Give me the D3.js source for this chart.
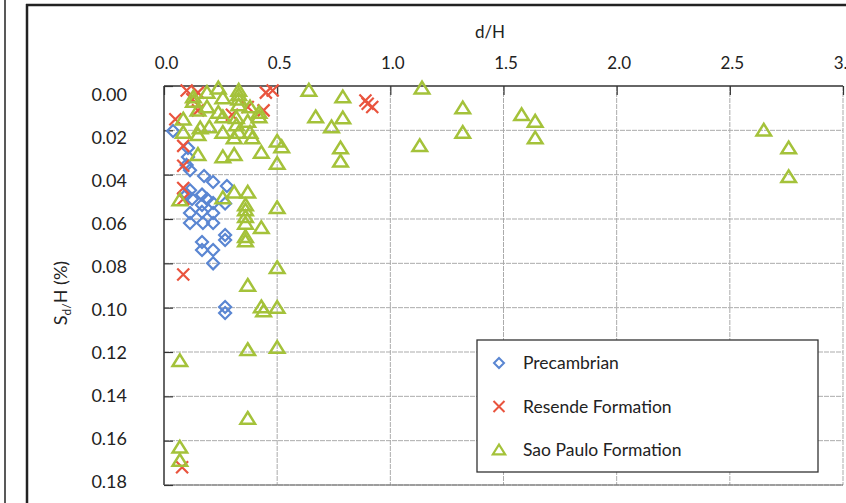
<!DOCTYPE html>
<html><head><meta charset="utf-8">
<script src="https://cdn.jsdelivr.net/npm/d3@7"></script>
<style>
html,body{margin:0;padding:0;background:#fff;}
svg text{font-family:Lato,"Open Sans",sans-serif;fill:#222;}
</style></head>
<body><svg id="c" width="846" height="503"></svg>
<script>
// ---- data ----
const xTicks = [0, 0.5, 1.0, 1.5, 2.0, 2.5, 3.0];
const yTicks = [0, 0.02, 0.04, 0.06, 0.08, 0.10, 0.12, 0.14, 0.16, 0.18];
const seriesNames = ["Precambrian", "Resende Formation", "Sao Paulo Formation"];

const precambrian = [
 [0.04,0.0203],[0.106,0.028],[0.106,0.032],[0.10,0.0356],[0.115,0.038],[0.177,0.0406],
 [0.217,0.0433],[0.278,0.0451],[0.115,0.047],[0.10,0.049],[0.124,0.051],[0.168,0.049],
 [0.19,0.051],[0.168,0.0537],[0.217,0.0528],[0.27,0.053],[0.115,0.0573],[0.168,0.0568],
 [0.217,0.0573],[0.115,0.0618],[0.172,0.0618],[0.217,0.0618],[0.27,0.0672],[0.27,0.0695],
 [0.168,0.0704],[0.168,0.074],[0.217,0.074],[0.217,0.080],[0.27,0.0997],[0.27,0.1024]
];
const resende = [
 [0.05,0.015],[0.10,0.002],[0.15,0.003],[0.125,0.006],[0.15,0.011],[0.085,0.027],
 [0.085,0.036],[0.085,0.046],[0.085,0.051],[0.085,0.085],[0.08,0.172],[0.30,0.013],
 [0.37,0.0095],[0.44,0.011],[0.45,0.003],[0.48,0.002],[0.89,0.0065],[0.92,0.0095],[0.90,0.008]
];
const saoPaulo = [
 [0.24,0.001],[0.19,0.003],[0.13,0.005],[0.13,0.007],[0.26,0.0054],[0.33,0.002],[0.33,0.004],
 [0.33,0.006],[0.33,0.0086],[0.19,0.0095],[0.15,0.011],[0.24,0.012],[0.26,0.014],[0.38,0.0095],
 [0.42,0.012],[0.42,0.014],[0.085,0.015],[0.32,0.0144],[0.32,0.0176],[0.37,0.016],[0.20,0.0185],
 [0.16,0.019],[0.085,0.021],[0.15,0.022],[0.26,0.021],[0.33,0.021],[0.38,0.021],[0.39,0.0235],
 [0.31,0.0235],[0.50,0.025],[0.52,0.0275],[0.50,0.035],[0.43,0.030],[0.26,0.032],[0.31,0.031],
 [0.15,0.031],[0.31,0.048],[0.37,0.048],[0.26,0.0505],[0.36,0.0537],[0.36,0.056],[0.36,0.059],
 [0.36,0.062],[0.43,0.064],[0.36,0.068],[0.36,0.070],[0.50,0.055],[0.50,0.082],[0.37,0.090],
 [0.07,0.0514],[0.43,0.0997],[0.44,0.1015],[0.50,0.100],[0.07,0.124],[0.37,0.119],[0.50,0.118],
 [0.37,0.150],[0.07,0.163],[0.07,0.169],
 [0.64,0.002],[0.79,0.005],[0.67,0.014],[0.79,0.0145],[0.74,0.0185],[0.78,0.028],[0.78,0.034],
 [1.14,0.001],[1.32,0.010],[1.32,0.021],[1.13,0.027],[1.58,0.013],[1.64,0.016],[1.64,0.0235],
 [2.65,0.020],[2.76,0.028],[2.76,0.041]
];

// ---- layout ----
const L = 164, R = 843, T = 86, B = 485;
const colors = {pre:"#5a86d2", res:"#e9543e", sao:"#a4c23a"};
const svg = d3.select("#c");

const x = d3.scaleLinear().domain([0,3]).range([L,R]);
const y = d3.scaleLinear().domain([0,0.18]).range([T,B]);
const yLab = d3.scaleLinear().domain([0,0.18]).range([95,482]);

// outer frame
svg.append("line").attr("x1",5).attr("x2",5).attr("y1",0).attr("y2",503).attr("stroke","#222").attr("stroke-width",1.5);
svg.append("line").attr("x1",27).attr("x2",27).attr("y1",4).attr("y2",503).attr("stroke","#222").attr("stroke-width",2.5);
svg.append("line").attr("x1",26).attr("x2",846).attr("y1",5).attr("y2",5).attr("stroke","#222").attr("stroke-width",2.5);

// gridlines
const grid = svg.append("g");
grid.selectAll(".vg").data(xTicks.slice(1)).join("line")
  .attr("x1",d=>x(d)).attr("x2",d=>x(d)).attr("y1",T).attr("y2",B)
  .attr("stroke","#ababab").attr("stroke-width",1).attr("stroke-dasharray","5,1");
grid.selectAll(".hg").data(yTicks.slice(1)).join("line")
  .attr("x1",L).attr("x2",R).attr("y1",d=>y(d)).attr("y2",d=>y(d))
  .attr("stroke","#ababab").attr("stroke-width",1).attr("stroke-dasharray","5,1");

// plot border
svg.append("line").attr("x1",L).attr("x2",R).attr("y1",T).attr("y2",T).attr("stroke","#333").attr("stroke-width",1.5);
svg.append("line").attr("x1",L).attr("x2",L).attr("y1",T).attr("y2",B).attr("stroke","#333").attr("stroke-width",1.5);
svg.append("line").attr("x1",L).attr("x2",R).attr("y1",B).attr("y2",B).attr("stroke","#666").attr("stroke-width",1.2);

// axes
const xAxis = svg.append("g").attr("transform",`translate(0,${T})`)
  .call(d3.axisTop(x).tickValues(xTicks).tickFormat(d3.format(".1f")).tickSize(-9).tickPadding(17));
xAxis.select(".domain").remove();
xAxis.selectAll(".tick line").attr("stroke","#333").attr("stroke-width",1.2);
xAxis.selectAll(".tick text").attr("font-size",17).attr("font-family","Lato, sans-serif").attr("fill","#222").attr("dx",2);

const yTickG = svg.append("g").attr("transform",`translate(${L},0)`)
  .call(d3.axisLeft(y).tickValues(yTicks).tickFormat("").tickSize(-9));
yTickG.select(".domain").remove();
yTickG.selectAll(".tick line").attr("stroke","#333").attr("stroke-width",1.2);

const yAxis = svg.append("g").attr("transform",`translate(127,0)`)
  .call(d3.axisLeft(yLab).tickValues(yTicks).tickFormat(d3.format(".2f")).tickSize(0).tickPadding(0));
yAxis.select(".domain").remove();
yAxis.selectAll(".tick text").attr("font-size",18).attr("font-family","Lato, sans-serif").attr("fill","#222");

// titles
svg.append("text").attr("x",490).attr("y",38).attr("text-anchor","middle").attr("font-size",17).text("d/H");
const yt = svg.append("text").attr("transform","translate(67,293) rotate(-90)").attr("text-anchor","middle").attr("font-size",18);
yt.append("tspan").text("S");
yt.append("tspan").attr("font-size",12).attr("dy",4).text("d/");
yt.append("tspan").attr("dy",-4).text("H (%)");

// markers
const diamond = (s)=>`M0,${-s}L${s},0L0,${s}L${-s},0Z`;
const tri = (s)=>`M0,${-s}L${s*1.12},${s*0.8}L${-s*1.12},${s*0.8}Z`;
const cross = (s)=>`M${-s},${-s}L${s},${s}M${-s},${s}L${s},${-s}`;

const g = svg.append("g");
g.selectAll(".pre").data(precambrian).join("path")
  .attr("transform",d=>`translate(${x(d[0])},${y(d[1])})`).attr("d",diamond(6))
  .attr("fill","none").attr("stroke",colors.pre).attr("stroke-width",2.2);
g.selectAll(".res").data(resende).join("path")
  .attr("transform",d=>`translate(${x(d[0])},${y(d[1])})`).attr("d",cross(6))
  .attr("fill","none").attr("stroke",colors.res).attr("stroke-width",2.2);
g.selectAll(".sao").data(saoPaulo).join("path")
  .attr("transform",d=>`translate(${x(d[0])},${y(d[1])})`).attr("d",tri(6.5))
  .attr("fill","none").attr("stroke",colors.sao).attr("stroke-width",2.5);

// legend
const lg = svg.append("g");
lg.append("rect").attr("x",477).attr("y",340).attr("width",341).attr("height",132)
  .attr("fill","#fff").attr("stroke","#333").attr("stroke-width",1.3);
const items = [
  {name:seriesNames[0], d:diamond(5), c:colors.pre, w:2},
  {name:seriesNames[1], d:cross(5.5), c:colors.res, w:2},
  {name:seriesNames[2], d:tri(5.5), c:colors.sao, w:2.2}
];
const ly = d3.scalePoint().domain(seriesNames).range([363,450]);
items.forEach(it=>{
  lg.append("path").attr("transform",`translate(499,${ly(it.name)})`).attr("d",it.d)
    .attr("fill","none").attr("stroke",it.c).attr("stroke-width",it.w);
  lg.append("text").attr("x",523).attr("y",ly(it.name)).attr("dy","0.36em").attr("font-size",17.5).text(it.name);
});
</script></body></html>
